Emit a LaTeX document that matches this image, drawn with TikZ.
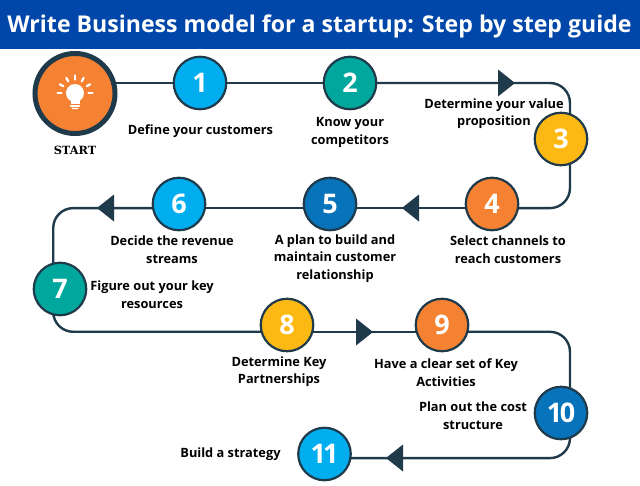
\documentclass[tikz,border=0pt]{standalone}
\usepackage{fontspec}
\setmainfont{Open Sans}
\newfontfamily\slab{DejaVu Serif}
\usetikzlibrary{backgrounds}
\definecolor{banner}{HTML}{0047A9}
\definecolor{ink}{HTML}{1F3A4A}
\definecolor{corange}{HTML}{F58233}
\definecolor{ccyan}{HTML}{00AEEF}
\definecolor{cteal}{HTML}{00A79D}
\definecolor{cyellow}{HTML}{FDB913}
\definecolor{cblue}{HTML}{0673BA}
\tikzset{
  x=1pt,y=-1pt,
  stepdot/.style={circle,draw=ink,line width=2.2pt,minimum size=52.5pt,inner sep=0pt,outer sep=0pt,text=white,font=\fontsize{27}{27}\selectfont\bfseries},
  lab/.style={align=center,text=black,inner sep=0pt,font=\fontsize{12.8}{17.6}\selectfont\bfseries},
  conn/.style={draw=ink,line width=2.4pt,rounded corners=20pt},
  head/.style={fill=ink},
}
\newcommand{\headR}[2]{\fill[head] (#1,#2) -- ++(-17,-13.5) -- ++(0,27) -- cycle;}
\newcommand{\headL}[2]{\fill[head] (#1,#2) -- ++(17,-13.5) -- ++(0,27) -- cycle;}
\begin{document}
\begin{tikzpicture}
\useasboundingbox (0,0) rectangle (640,485);
\fill[banner] (0,0) rectangle (640,48.5);
\node[text=white,font=\fontsize{23.1}{24}\selectfont\bfseries,inner sep=0pt] (title) at (319.5,26) {Write Business model for a startup: Step by step guide};

\node[circle,draw=ink,fill=corange,line width=5pt,minimum size=80pt,inner sep=0pt,outer sep=0pt] (start) at (75,93.5) {};
\node[font=\slab\fontsize{11.3}{12}\selectfont\bfseries,text=black,inner sep=0pt] (startlab) at (75,150.5) {START};

\node[stepdot,fill=ccyan] (n1) at (200,83) {1};
\node[stepdot,fill=cteal] (n2) at (350,83) {2};
\node[stepdot,fill=cyellow] (n3) at (561,139) {3};
\node[stepdot,fill=corange] (n4) at (492,204) {4};
\node[stepdot,fill=cblue] (n5) at (330,204) {5};
\node[stepdot,fill=ccyan] (n6) at (179,204) {6};
\node[stepdot,fill=cteal] (n7) at (60,289) {7};
\node[stepdot,fill=cyellow] (n8) at (287,325) {8};
\node[stepdot,fill=corange] (n9) at (442,325) {9};
\node[stepdot,fill=cblue] (n10) at (561,413) {1\kern-2.5pt 0};
\node[stepdot,fill=ccyan] (n11) at (324.5,454) {1\kern-3pt 1};

% bulb
\begin{scope}[shift={(75,93)}]
  \fill[white] (0,0) circle (9);
  \fill[white] (-4.5,5) rectangle (4.5,11);
  \fill[white,rounded corners=0.7pt] (-5,12) rectangle (5,13.8);
  \fill[white,rounded corners=0.7pt] (-3.5,14.8) rectangle (3.5,16);
  \foreach \a in {180,210,240,270,300,330,360}
    \draw[white,line width=2.2pt,line cap=round] (\a:13.5) -- (\a:17.5);
\end{scope}

\node[lab] (l1) at (200.5,131) {Define your customers};
\node[lab] (l2) at (350,132.5) {Know your\\competitors};
\node[lab] (l3) at (494,113.5) {Determine your value\\proposition};
\node[lab] (l4) at (508,249.5) {Select channels to\\reach customers};
\node[lab] (l5) at (335,258.5) {A plan to build and\\maintain customer\\relationship};
\node[lab] (l6) at (172,249.5) {Decide the revenue\\streams};
\node[lab] (l7) at (152,294.5) {Figure out your key\\resources};
\node[lab] (l8) at (279,371.5) {Determine Key\\Partnerships};
\node[lab] (l9) at (446,372.5) {Have a clear set of Key\\Activities};
\node[lab] (l10) at (473,415.5) {Plan out the cost\\structure};
\node[lab] (l11) at (230.5,454.5) {Build a strategy};

\begin{scope}[on background layer]
  \fill[white] (0,48.5) rectangle (640,485);
  \draw[conn] (start.center |- n1.center) -- (n1) -- (n2);
  \draw[conn] (n2) -| (n3.70);
  \draw[conn] (n3.-70) |- (n4.-9);
  \draw[conn] (n4.-9) -- (n5.-9) -- (n6.-9);
  \draw[conn] (n6.-171) -| (n7.105);
  \draw[conn] (n7.-105) |- (n8.-165);
  \draw[conn] (n8.-165) -- (n9.-165);
  \draw[conn] (n9.-15) -| (n10.70);
  \draw[conn] (n10.-70) |- (n11.-9);
\end{scope}
\headR{515}{83}
\headL{402}{208}
\headL{97}{208}
\headR{373}{332}
\headL{386}{458}
\end{tikzpicture}
\end{document}
